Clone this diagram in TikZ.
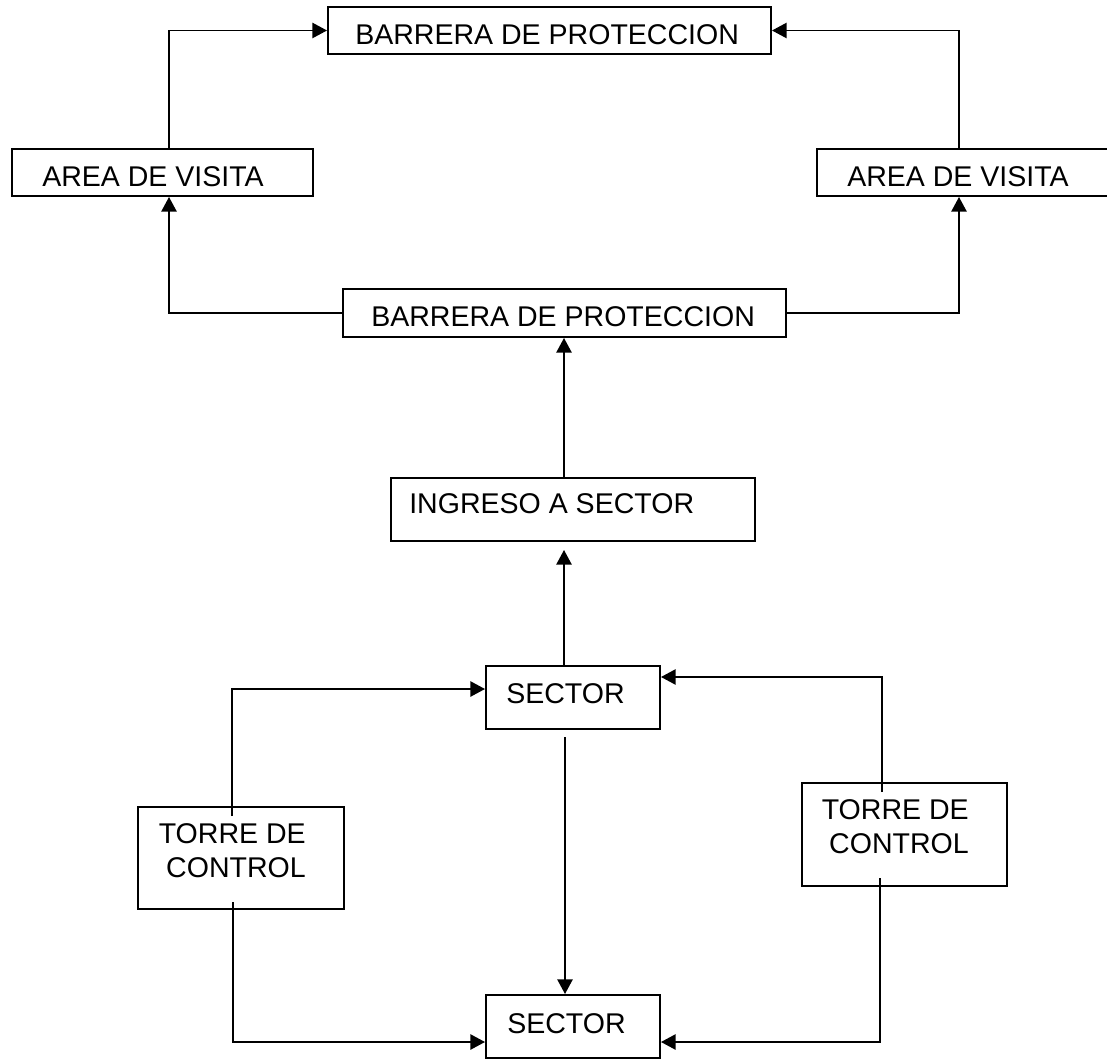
\documentclass[tikz,border=0pt]{standalone}
\usepackage{fontspec}
\setmainfont{Liberation Sans}
\usetikzlibrary{arrows.meta,calc}
\tikzset{
  box/.style={draw, line width=1.5pt, rectangle, inner sep=0pt},
  txt/.style={inner sep=0pt, font=\fontsize{21.4}{25.5}\selectfont},
  conn/.style={line width=1.2pt, -{Triangle[length=11pt,width=11.5pt]}},
}
\begin{document}
\begin{tikzpicture}[x=0.75pt,y=-0.75pt]
\useasboundingbox (0,0) rectangle (1107,1059);
\clip (0,0) rectangle (1107,1059);
% boxes
\node[box, minimum width=332.25pt, minimum height=35.25pt] (tb) at (549.5,30.5) {};
\node[box, minimum width=225.75pt, minimum height=35.25pt] (la) at (162.5,172.5) {};
\node[box, minimum width=221.25pt, minimum height=35.25pt] (ra) at (964.5,172.5) {};
\node[box, minimum width=332.25pt, minimum height=36pt] (mb) at (564.5,313) {};
\node[box, minimum width=273pt, minimum height=47.25pt] (ing) at (573,509.5) {};
\node[box, minimum width=130.5pt, minimum height=47.25pt] (st) at (573,697.5) {};
\node[box, minimum width=154.5pt, minimum height=76.5pt] (tl) at (241,858) {};
\node[box, minimum width=153.75pt, minimum height=77.25pt] (tr) at (904.5,834.5) {};
\node[box, minimum width=130.5pt, minimum height=47.25pt] (sb) at (573,1026.5) {};
% texts
\node[txt, anchor=base west] (tbt) at (355,45) {BARRERA DE PROTECCION};
\node[txt, anchor=base west] (lat) at (42,187) {AREA DE VISITA};
\node[txt, anchor=base west] (rat) at (847,187) {AREA DE VISITA};
\node[txt, anchor=base west] (mbt) at (371,327) {BARRERA DE PROTECCION};
\node[txt, anchor=base west] (ingt) at (409,513) {INGRESO A SECTOR};
\node[txt, anchor=base west] (stt) at (506,703) {SECTOR};
\node[txt, anchor=base west] (sbt) at (507,1033) {SECTOR};
\node[txt, anchor=north east, align=right] (tlt) at (306,823.5) {TORRE DE\\CONTROL};
\node[txt, anchor=north east, align=right] (trt) at (969,799.5) {TORRE DE\\CONTROL};
% connectors
\draw[conn] ($(la.north west)+(158,0)$) |- (tb.west);
\draw[conn] ($(ra.north west)+(143,0)$) |- (tb.east);
\draw[conn] (mb.west) -| ($(la.south west)+(158,0)$);
\draw[conn] (mb.east) -| ($(ra.south west)+(143,0)$);
\draw[conn] ($(ing.north west)+(174,0)$) -- ($(mb.south west)+(222,0)$);
\draw[conn] ($(st.north west)+(79,0)$) -- ($(ing.south west)+(174,8)$);
\draw[conn] ($(tl.north west)+(95,10)$) |- ($(st.west)+(0,-8.5)$);
\draw[conn] ($(tr.north west)+(81,10)$) |- ($(st.east)+(0,-20.5)$);
\draw[conn] ($(st.south)+(-8,7)$) -- ($(sb.north)+(-8,0)$);
\draw[conn] ($(tl.south west)+(96,-8)$) |- ($(sb.west)+(0,15.5)$);
\draw[conn] ($(tr.south west)+(79,-9)$) |- ($(sb.east)+(0,15.5)$);
\end{tikzpicture}
\end{document}
